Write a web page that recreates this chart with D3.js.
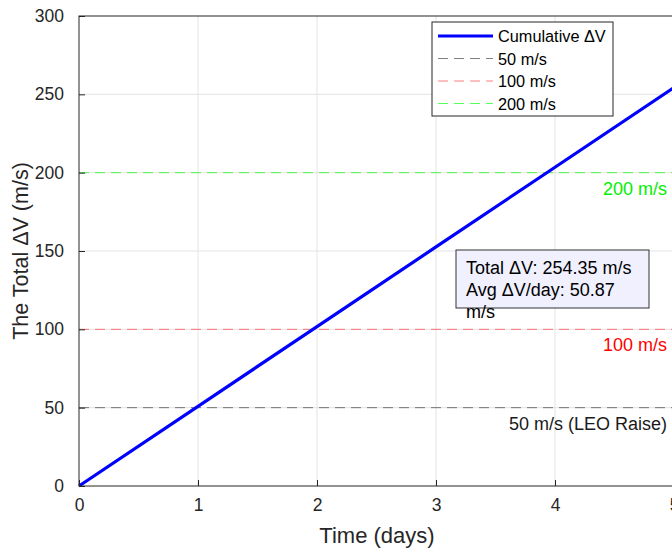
<!DOCTYPE html>
<html>
<head>
<meta charset="utf-8">
<script src="https://cdn.jsdelivr.net/npm/d3@7"></script>
<style>
  body { margin: 0; background: #fff; }
  svg { font-family: "Liberation Sans", Arial, sans-serif; }
</style>
</head>
<body>
<svg id="chart" width="672" height="549"></svg>
<script>
// data
const days = [0, 1, 2, 3, 4, 5];
const cumulativeDV = [0, 50.87, 101.74, 152.61, 203.48, 254.35];
const refValues = [50, 100, 200];
const refLabels = ["50 m/s (LEO Raise)", "100 m/s", "200 m/s"];
const refLegend = ["50 m/s", "100 m/s", "200 m/s"];
const refColors = ["rgba(0,0,0,0.5)", "rgba(255,0,0,0.5)", "rgba(0,255,0,0.65)"];
const refTextColors = ["#1a1a1a", "#ff0000", "#00f000"];
const xTicks = [0, 1, 2, 3, 4, 5];
const yTicks = [0, 50, 100, 150, 200, 250, 300];
const statLines = ["Total \u0394V: 254.35 m/s", "Avg \u0394V/day: 50.87", "m/s"];

const margin = {top: 16, left: 79};
const plotW = 595, plotH = 470;

const svg = d3.select("#chart");
const g = svg.append("g").attr("transform", "translate(" + margin.left + "," + margin.top + ")");

const x = d3.scaleLinear().domain([0, 5]).range([0, plotW]);
const y = d3.scaleLinear().domain([0, 300]).range([plotH, 0]);

// grid
g.append("g").selectAll("line").data(xTicks.slice(1)).enter().append("line")
  .attr("x1", d => x(d)).attr("x2", d => x(d)).attr("y1", 0).attr("y2", plotH)
  .attr("stroke", "#e3e3e3").attr("stroke-width", 1);
g.append("g").selectAll("line").data(yTicks.slice(1, -1)).enter().append("line")
  .attr("y1", d => y(d)).attr("y2", d => y(d)).attr("x1", 0).attr("x2", plotW)
  .attr("stroke", "#e3e3e3").attr("stroke-width", 1);

// reference lines
refValues.forEach(function(v, i) {
  g.append("line")
    .attr("x1", 0).attr("x2", plotW).attr("y1", y(v)).attr("y2", y(v))
    .attr("stroke", refColors[i]).attr("stroke-width", 1)
    .attr("stroke-dasharray", "10,6");
  g.append("text")
    .attr("x", 667 - margin.left).attr("y", y(v) + 22)
    .attr("text-anchor", "end").attr("font-size", 18)
    .attr("fill", refTextColors[i]).text(refLabels[i]);
});

// cumulative line
g.append("path")
  .datum(days.map((d, i) => [d, cumulativeDV[i]]))
  .attr("fill", "none").attr("stroke", "#0000ff").attr("stroke-width", 3.2)
  .attr("d", d3.line().x(d => x(d[0])).y(d => y(d[1])));

// axes box
g.append("rect").attr("x", 0).attr("y", 0).attr("width", plotW).attr("height", plotH)
  .attr("fill", "none").attr("stroke", "#262626").attr("stroke-width", 1);

const xAxis = g.append("g").attr("transform", "translate(0," + plotH + ")")
  .call(d3.axisBottom(x).tickValues(xTicks).tickSize(-6).tickPadding(13).tickFormat(d3.format("d")));
const yAxis = g.append("g")
  .call(d3.axisLeft(y).tickValues(yTicks).tickSize(-6).tickPadding(15).tickFormat(d3.format("d")));
[xAxis, yAxis].forEach(function(a) {
  a.select(".domain").remove();
  a.selectAll("line").attr("stroke", "#262626");
  a.selectAll("text").attr("font-size", 17.5).attr("fill", "#262626").attr("font-family", "Liberation Sans, Arial, sans-serif");
});

// axis labels
svg.append("text").attr("x", 377).attr("y", 543).attr("text-anchor", "middle")
  .attr("font-size", 22).attr("fill", "#262626").text("Time (days)");
svg.append("text").attr("transform", "translate(28," + (margin.top + plotH / 2) + ") rotate(-90)")
  .attr("text-anchor", "middle").attr("font-size", 21.5).attr("fill", "#262626")
  .text("The Total \u0394V (m/s)");

// legend
const leg = svg.append("g").attr("transform", "translate(432,22)");
leg.append("rect").attr("width", 181).attr("height", 94)
  .attr("fill", "#fff").attr("stroke", "#262626").attr("stroke-width", 1);
const legItems = [{label: "Cumulative \u0394V", color: "#0000ff", w: 3.2, dash: null}]
  .concat(refLegend.map((l, i) => ({label: l, color: refColors[i], w: 1, dash: "10,6"})));
legItems.forEach(function(it, i) {
  const yy = 14 + i * 22.5;
  leg.append("line").attr("x1", 6).attr("x2", 61).attr("y1", yy).attr("y2", yy)
    .attr("stroke", it.color).attr("stroke-width", it.w)
    .attr("stroke-dasharray", it.dash);
  leg.append("text").attr("x", 66).attr("y", yy + 6).attr("font-size", 16.3)
    .attr("fill", "#000").text(it.label);
});

// stats box
const st = svg.append("g").attr("transform", "translate(456,250)");
st.append("rect").attr("width", 193).attr("height", 58)
  .attr("fill", "#f0f0ff").attr("stroke", "#333").attr("stroke-width", 1);
statLines.forEach(function(t, i) {
  st.append("text").attr("x", 10).attr("y", 24 + i * 22).attr("font-size", 18)
    .attr("fill", "#000").text(t);
});
</script>
</body>
</html>
